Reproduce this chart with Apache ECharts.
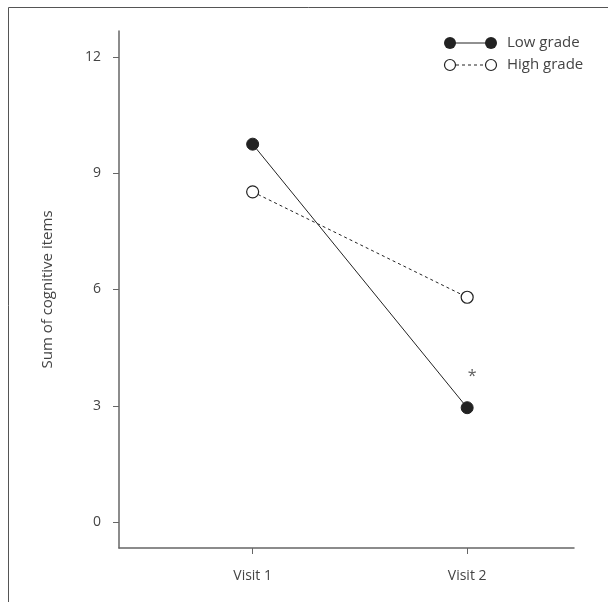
<!DOCTYPE html>
<html>
<head>
<meta charset="utf-8">
<script src="https://cdn.jsdelivr.net/npm/echarts@6/dist/echarts.min.js"></script>
<style>
  html, body { margin: 0; padding: 0; background: #fff; }
  #chart { width: 608px; height: 602px; }
</style>
</head>
<body>
<div id="chart"></div>
<script>
const visits = ['Visit 1', 'Visit 2'];
const lowGrade = [9.75, 2.95];
const highGrade = [8.52, 5.8];
const yTicks = [0, 3, 6, 9, 12];
// significance mark above Visit 2 low grade
const sigMark = [[2, 3.75]];

const font = '"Open Sans", sans-serif';
const axisColor = '#666';

const chart = echarts.init(document.getElementById('chart'));

const option = {
  animation: false,
  textStyle: { fontFamily: font },
  grid: { left: 119, right: 34, top: 31, bottom: 54 },
  xAxis: {
    type: 'value',
    min: 0.377,
    max: 2.498,
    axisLine: { onZero: false, lineStyle: { color: axisColor, width: 1.5 } },
    axisTick: { customValues: [1, 2], length: 6, lineStyle: { color: axisColor } },
    axisLabel: {
      customValues: [1, 2],
      formatter: v => visits[v - 1],
      color: '#444',
      fontSize: 14,
      margin: 21
    },
    splitLine: { show: false }
  },
  yAxis: {
    type: 'value',
    min: -0.67,
    max: 12.67,
    name: 'Sum of cognitive items',
    nameLocation: 'middle',
    nameGap: 64,
    nameTextStyle: { color: '#444', fontSize: 15 },
    axisLine: { show: true, onZero: false, lineStyle: { color: axisColor, width: 1.5 } },
    axisTick: { show: true, customValues: yTicks, length: 6, lineStyle: { color: axisColor } },
    axisLabel: { customValues: yTicks, color: '#444', fontSize: 14, margin: 18 },
    splitLine: { show: false }
  },
  series: [
    {
      name: 'High grade',
      type: 'line',
      data: highGrade.map((v, i) => [i + 1, v]),
      symbol: 'circle',
      symbolSize: 12,
      itemStyle: { color: '#fff', borderColor: '#222', borderWidth: 1.2 },
      lineStyle: { color: '#222', width: 1, type: [3, 3] }
    },
    {
      name: 'Low grade',
      type: 'line',
      data: lowGrade.map((v, i) => [i + 1, v]),
      symbol: 'circle',
      symbolSize: 12,
      itemStyle: { color: '#222', borderColor: '#222', borderWidth: 1 },
      lineStyle: { color: '#222', width: 1 }
    },
    {
      type: 'scatter',
      data: sigMark,
      symbolSize: 0,
      silent: true,
      label: {
        show: true,
        formatter: '*',
        position: 'inside',
        offset: [5, 0],
        color: '#333',
        fontSize: 16
      }
    }
  ],
  graphic: [
    {
      type: 'rect',
      shape: { x: 8.5, y: 7.5, width: 800, height: 800 },
      style: { fill: 'none', stroke: '#555', lineWidth: 1 }
    },
    // legend: low grade
    { type: 'line', shape: { x1: 450, y1: 43, x2: 491, y2: 43 }, style: { stroke: '#222', lineWidth: 1 } },
    { type: 'circle', shape: { cx: 450, cy: 43, r: 6 }, style: { fill: '#222' } },
    { type: 'circle', shape: { cx: 491, cy: 43, r: 6 }, style: { fill: '#222' } },
    { type: 'text', x: 507, y: 43, style: { text: 'Low grade', font: '15px ' + font, fill: '#444', verticalAlign: 'middle' } },
    // legend: high grade
    { type: 'line', shape: { x1: 450, y1: 65, x2: 491, y2: 65 }, style: { stroke: '#222', lineWidth: 1, lineDash: [3, 3] } },
    { type: 'circle', shape: { cx: 450, cy: 65, r: 5.5 }, style: { fill: '#fff', stroke: '#222', lineWidth: 1.2 } },
    { type: 'circle', shape: { cx: 491, cy: 65, r: 5.5 }, style: { fill: '#fff', stroke: '#222', lineWidth: 1.2 } },
    { type: 'text', x: 507, y: 65, style: { text: 'High grade', font: '15px ' + font, fill: '#444', verticalAlign: 'middle' } }
  ]
};

chart.setOption(option);
</script>
</body>
</html>
